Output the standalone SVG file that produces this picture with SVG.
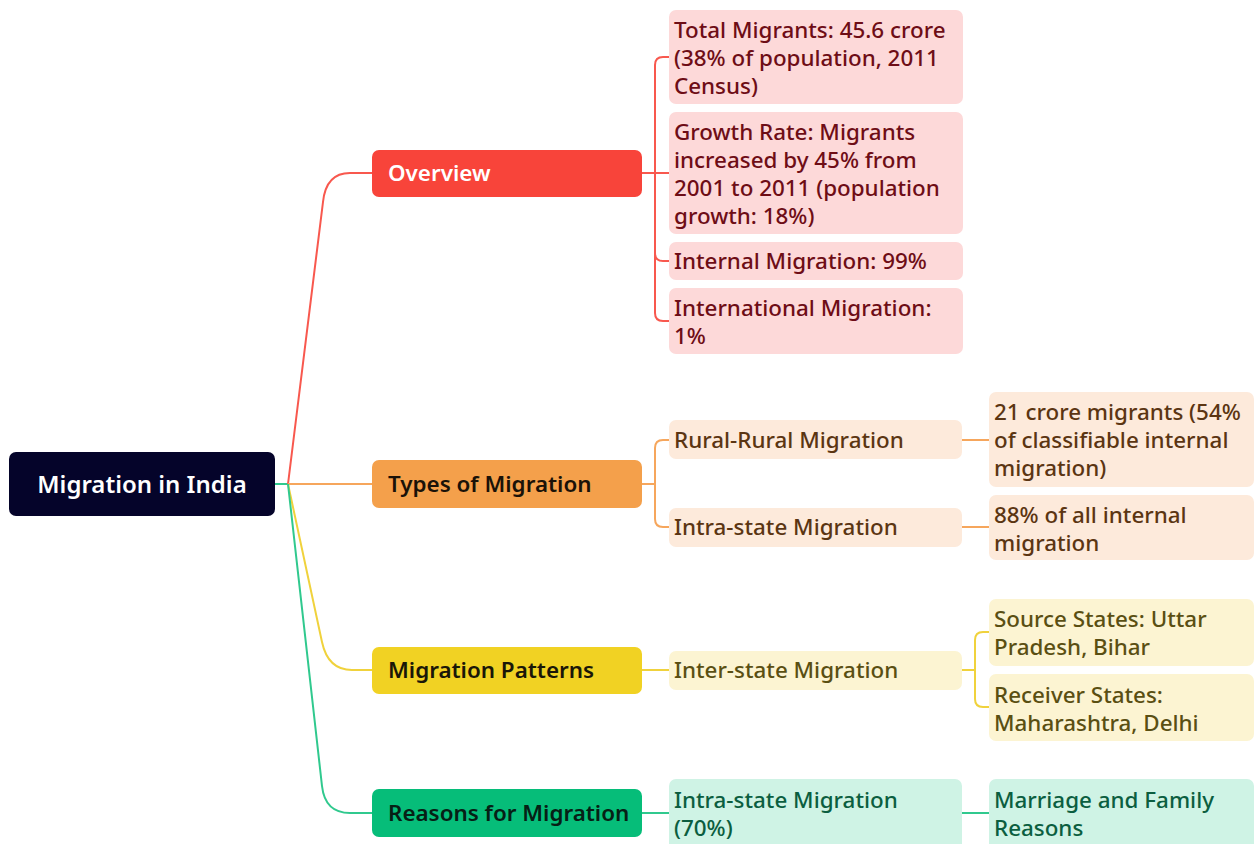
<svg xmlns="http://www.w3.org/2000/svg" width="1254" height="844" viewBox="0 0 1254 844">
<style>
text{font-family:"Noto Sans","Liberation Sans",sans-serif;font-weight:500;font-size:22.4px}
.c{fill:none;stroke-width:2}
.r{stroke:#f8584e}.o{stroke:#f6a65c}.y{stroke:#f0d23c}.g{stroke:#30c98e}
.t1{font-size:22.4px;font-weight:600}
.pk{fill:#fdd9d9}.pkt{fill:#6e0d16}
.pc{fill:#fdeadb}.pct{fill:#5b3512}
.yl{fill:#fcf4d2}.ylt{fill:#5a4f12}
.mn{fill:#cff3e5}.mnt{fill:#0b5e40}
</style>
<g id="connectors">
<path class="c g" d="M275,484 H288"/>
<path class="c r" d="M288,484 L323,202 Q326,173 350,173 H372"/>
<path class="c o" d="M288,484 H372"/>
<path class="c y" d="M288,484 L322,642 Q328,670 352,670 H372"/>
<path class="c g" d="M288,484 L322,786 Q325,813 350,813 H372"/>
<path class="c r" d="M642,173 H669"/>
<path class="c r" d="M655,173 V65 Q655,57 663,57 H669"/>
<path class="c r" d="M655,173 V253 Q655,261 663,261 H669"/>
<path class="c r" d="M655,173 V313 Q655,321 663,321 H669"/>
<path class="c o" d="M642,484 H655"/>
<path class="c o" d="M655,484 V448 Q655,440 663,440 H669"/>
<path class="c o" d="M655,484 V519 Q655,527 663,527 H669"/>
<path class="c o" d="M962,440 H989"/>
<path class="c o" d="M962,527 H989"/>
<path class="c y" d="M642,670 H669"/>
<path class="c y" d="M962,670 H975"/>
<path class="c y" d="M975,670 V640 Q975,632 983,632 H989"/>
<path class="c y" d="M975,670 V699 Q975,707 983,707 H989"/>
<path class="c g" d="M642,813 H669"/>
<path class="c g" d="M962,813 H989"/>
</g>
<g id="root">
<rect x="9" y="452" width="266" height="64" rx="7" fill="#05042a"/>
<text x="142" y="493" text-anchor="middle" fill="#ffffff" style="font-size:24px;font-weight:600">Migration in India</text>
</g>
<g id="overview">
<rect x="372" y="150" width="270" height="47" rx="7" fill="#f8443a"/>
<text class="t1" x="388" y="181" fill="#ffffff">Overview</text>
</g>
<g id="types">
<rect x="372" y="460" width="270" height="48" rx="7" fill="#f4a04b"/>
<text class="t1" x="388" y="492" fill="#1a1208">Types of Migration</text>
</g>
<g id="patterns">
<rect x="372" y="647" width="270" height="47" rx="7" fill="#f1d223"/>
<text class="t1" x="388" y="678" fill="#1a1708">Migration Patterns</text>
</g>
<g id="reasons">
<rect x="372" y="789" width="270" height="48" rx="7" fill="#06bd79"/>
<text class="t1" x="388" y="821" fill="#062015">Reasons for Migration</text>
</g>
<g id="total">
<rect class="pk" x="669" y="10" width="294" height="94" rx="7"/>
<text class="pkt" x="674" y="38"><tspan x="674">Total Migrants: 45.6 crore</tspan><tspan x="674" dy="28">(38% of population, 2011</tspan><tspan x="674" dy="28">Census)</tspan></text>
</g>
<g id="growth">
<rect class="pk" x="669" y="112" width="294" height="122" rx="7"/>
<text class="pkt" x="674" y="140"><tspan x="674">Growth Rate: Migrants</tspan><tspan x="674" dy="28">increased by 45% from</tspan><tspan x="674" dy="28">2001 to 2011 (population</tspan><tspan x="674" dy="28">growth: 18%)</tspan></text>
</g>
<g id="internal">
<rect class="pk" x="669" y="242" width="294" height="38" rx="7"/>
<text class="pkt" x="674" y="269">Internal Migration: 99%</text>
</g>
<g id="international">
<rect class="pk" x="669" y="288" width="294" height="66" rx="7"/>
<text class="pkt" x="674" y="316"><tspan x="674">International Migration:</tspan><tspan x="674" dy="28">1%</tspan></text>
</g>
<g id="rural">
<rect class="pc" x="669" y="420" width="293" height="39" rx="7"/>
<text class="pct" x="674" y="448">Rural-Rural Migration</text>
</g>
<g id="rural-detail">
<rect class="pc" x="989" y="392" width="265" height="95" rx="7"/>
<text class="pct" x="994" y="420"><tspan x="994">21 crore migrants (54%</tspan><tspan x="994" dy="28">of classifiable internal</tspan><tspan x="994" dy="28">migration)</tspan></text>
</g>
<g id="intra">
<rect class="pc" x="669" y="508" width="293" height="39" rx="7"/>
<text class="pct" x="674" y="535">Intra-state Migration</text>
</g>
<g id="intra-detail">
<rect class="pc" x="989" y="495" width="265" height="65" rx="7"/>
<text class="pct" x="994" y="523"><tspan x="994">88% of all internal</tspan><tspan x="994" dy="28">migration</tspan></text>
</g>
<g id="inter">
<rect class="yl" x="669" y="651" width="293" height="39" rx="7"/>
<text class="ylt" x="674" y="678">Inter-state Migration</text>
</g>
<g id="source">
<rect class="yl" x="989" y="599" width="265" height="67" rx="7"/>
<text class="ylt" x="994" y="627"><tspan x="994">Source States: Uttar</tspan><tspan x="994" dy="28">Pradesh, Bihar</tspan></text>
</g>
<g id="receiver">
<rect class="yl" x="989" y="674" width="265" height="67" rx="7"/>
<text class="ylt" x="994" y="703"><tspan x="994">Receiver States:</tspan><tspan x="994" dy="28">Maharashtra, Delhi</tspan></text>
</g>
<g id="intra70">
<rect class="mn" x="669" y="779" width="293" height="72" rx="7"/>
<text class="mnt" x="674" y="808"><tspan x="674">Intra-state Migration</tspan><tspan x="674" dy="28">(70%)</tspan></text>
</g>
<g id="marriage">
<rect class="mn" x="989" y="779" width="265" height="72" rx="7"/>
<text class="mnt" x="994" y="808"><tspan x="994">Marriage and Family</tspan><tspan x="994" dy="28">Reasons</tspan></text>
</g>
</svg>
